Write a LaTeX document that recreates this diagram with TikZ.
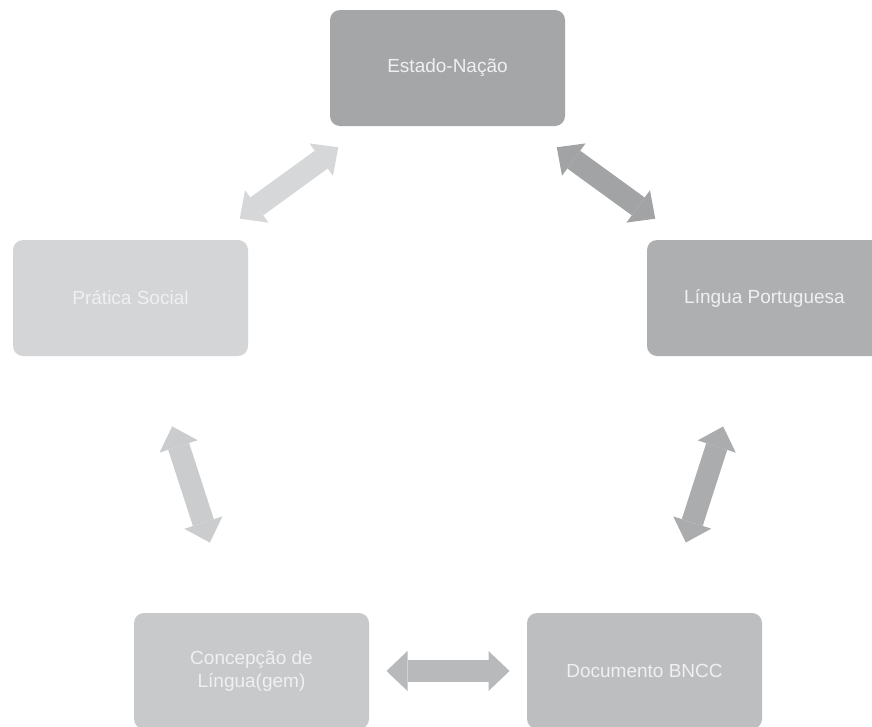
\documentclass[tikz,border=0pt]{standalone}
\usepackage{fontspec}
\setmainfont{Liberation Sans}
\usetikzlibrary{arrows.meta}
\definecolor{cinzaA}{HTML}{A5A6A8}
\definecolor{cinzaB}{HTML}{AEAFB1}
\definecolor{cinzaC}{HTML}{BDBEC0}
\definecolor{cinzaD}{HTML}{C8C9CB}
\definecolor{cinzaE}{HTML}{D4D5D7}
\begin{document}
\begin{tikzpicture}[x=1pt,y=-1pt,
caixa/.style={rounded corners=10pt,minimum width=235pt,minimum height=116pt,inner sep=0pt,align=center,text=white!94!black,font=\fontsize{19}{23}\selectfont},
seta/.style={line width=22pt,{Triangle[width=40pt,length=21pt,line width=0pt]}-{Triangle[width=40pt,length=21pt,line width=0pt]},shorten <=135pt,shorten >=135pt}]
\useasboundingbox (0,0) rectangle (872,726);
\fill[white] (0,0) rectangle (872,726);
%\draw[help lines] (0,0) grid[step=50pt] (872,726);
\node[caixa,fill=cinzaA] (estado) at (447.5,68) {Estado-Nação};
\node[caixa,fill=cinzaE] (pratica) at (130.5,298) {Prática Social};
\node[caixa,fill=cinzaB] (lingua) at (764.5,298) {Língua Portuguesa};
\node[caixa,fill=cinzaD] (concepcao) at (251.5,671) {Concepção de\\Língua(gem)};
\node[caixa,fill=cinzaC] (bncc) at (644.5,671) {Documento BNCC};
\draw[seta,color={rgb,255:red,214;green,215;blue,217}] (pratica.center) -- (estado.center);
\draw[seta,color={rgb,255:red,162;green,163;blue,165}] (estado.center) -- (lingua.center);
\draw[seta,color={rgb,255:red,171;green,172;blue,174}] (lingua.center) -- (bncc.center);
\draw[seta,color={rgb,255:red,184;green,185;blue,187}] (concepcao.center) -- (bncc.center);
\draw[seta,color={rgb,255:red,203;green,204;blue,206}] (pratica.center) -- (concepcao.center);
\end{tikzpicture}
\end{document}
